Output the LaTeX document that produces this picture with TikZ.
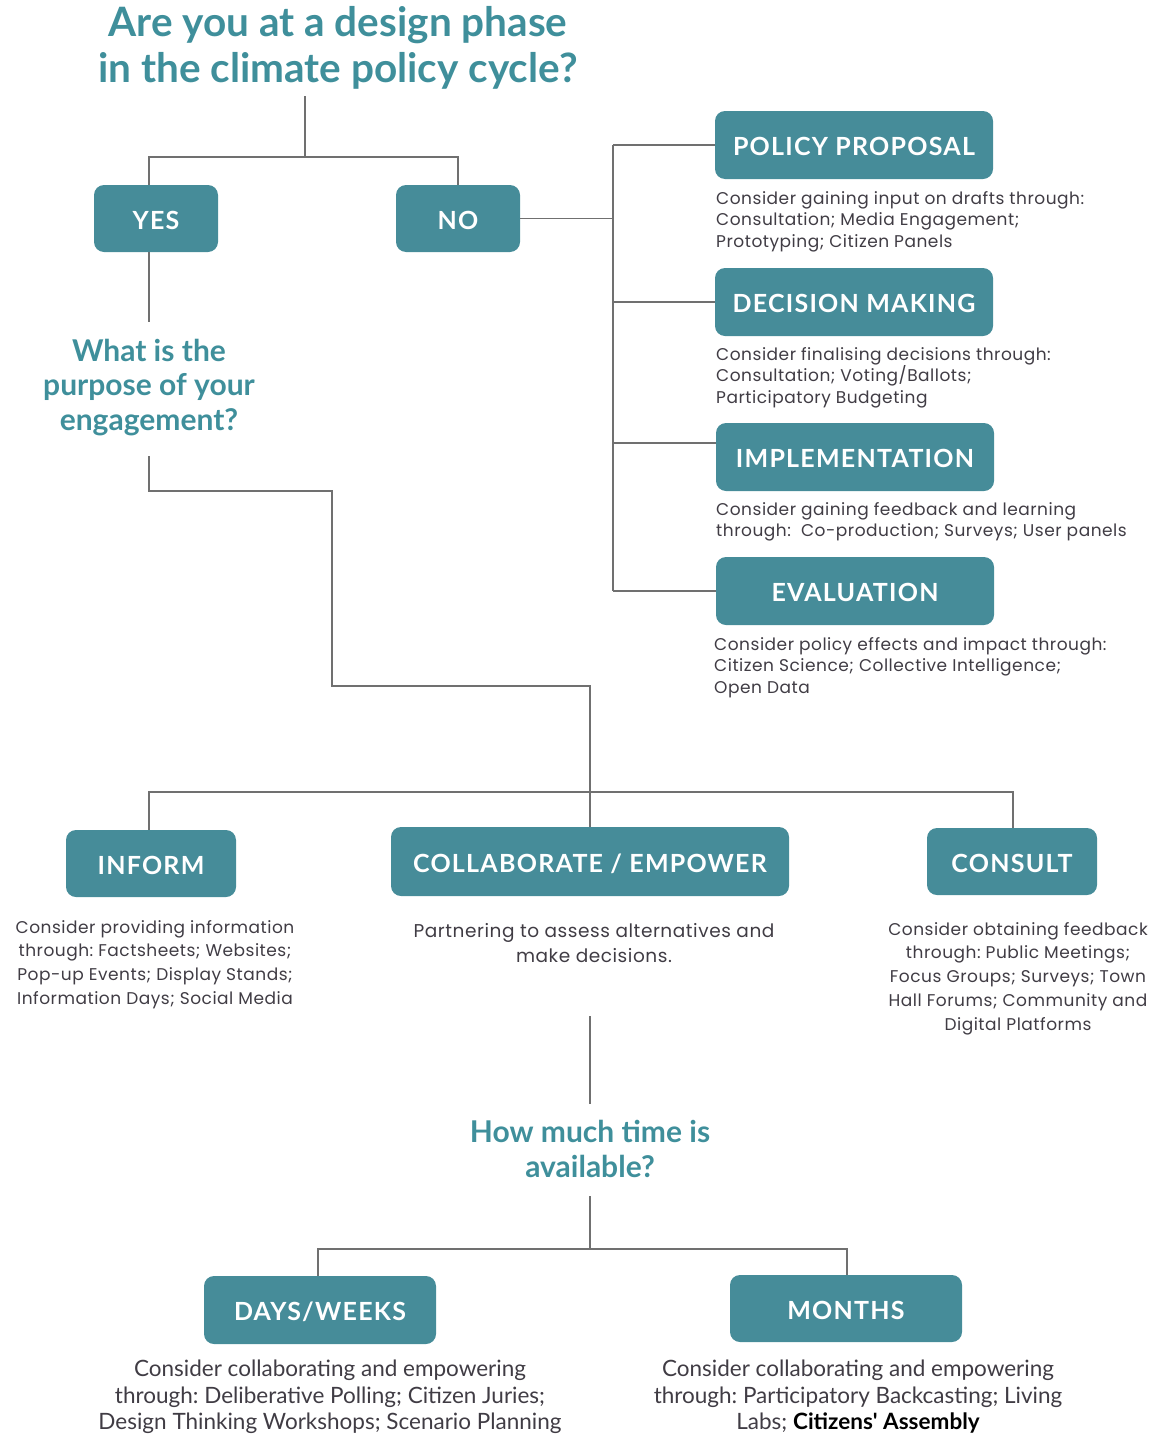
\documentclass[tikz,border=0pt]{standalone}
\usepackage{fontspec}
\setmainfont{Poppins}
\newfontfamily\bodyfont{Poppins}[LetterSpace=3]
\newfontfamily\headfont{Lato}
\newfontfamily\boxfont{Lato}[LetterSpace=5]
\newfontfamily\condfont{Lato}
\definecolor{boxteal}{HTML}{468C99}
\definecolor{headteal}{HTML}{3F8F9B}
\definecolor{linegray}{HTML}{707070}
\definecolor{bodygray}{HTML}{403C44}
\tikzset{
  box/.style={fill=boxteal, rounded corners=10pt, text=white, inner sep=0pt,
    text height=21.5pt, text depth=0pt,
    font=\boxfont\bfseries\fontsize{25}{28}\selectfont},
  conn/.style={draw=linegray, line width=1.3pt},
  body/.style={text=bodygray, inner sep=0pt, font=\bodyfont\frenchspacing\fontsize{17}{21.5}\selectfont},
  midbody/.style={text=bodygray, inner sep=0pt, align=center, font=\bodyfont\frenchspacing\fontsize{17}{23.7}\selectfont},
  condbody/.style={text=bodygray, inner sep=0pt, align=center, font=\condfont\frenchspacing\fontsize{22.5}{26.5}\selectfont},
  quest/.style={text=headteal, inner sep=0pt, align=center, font=\headfont\bfseries\fontsize{30}{34.5}\selectfont},
}
\begin{document}
\begin{tikzpicture}[x=1pt,y=-1pt]
\useasboundingbox (0,0) rectangle (1157,1440);
% title
\node[quest, anchor=north, font=\headfont\bfseries\fontsize{40.5}{46}\selectfont] (title) at (338,6)
  {Are you at a design phase\\in the climate policy cycle?};
% boxes
\node[box, minimum width=124pt, minimum height=67pt] (yes) at (156,218.5) {YES};
\node[box, minimum width=124pt, minimum height=67pt] (no) at (458,218.5) {NO};
\node[box, minimum width=278pt, minimum height=68pt] (pp) at (854,145) {POLICY PROPOSAL};
\node[box, minimum width=278pt, minimum height=68pt] (dm) at (854,302) {DECISION MAKING};
\node[box, minimum width=278pt, minimum height=68pt] (impl) at (855,457) {IMPLEMENTATION};
\node[box, minimum width=278pt, minimum height=68pt] (eval) at (855,591) {EVALUATION};
\node[box, minimum width=170pt, minimum height=67pt] (inform) at (151,863.5) {INFORM};
\node[box, minimum width=398pt, minimum height=69pt] (collab) at (590,861.5) {COLLABORATE / EMPOWER};
\node[box, minimum width=170pt, minimum height=67pt] (consult) at (1012,861.5) {CONSULT};
\node[box, minimum width=232pt, minimum height=68pt] (days) at (320,1310) {DAYS/WEEKS};
\node[box, minimum width=232pt, minimum height=67pt] (months) at (846,1308.5) {MONTHS};
% questions
\node[quest, anchor=north] (q1) at (149,339) {What is the\\purpose of your\\engagement?};
\node[quest, anchor=north] (q2) at (590,1120) {How much time is\\available?};
% body texts
\node[body, anchor=north west, align=left] (pptxt) at (716,191)
  {Consider gaining input on drafts through:\\Consultation; Media Engagement;\\Prototyping; Citizen Panels};
\node[body, anchor=north west, align=left] (dmtxt) at (716,347)
  {Consider finalising decisions through:\\Consultation; Voting/Ballots;\\Participatory Budgeting};
\node[body, anchor=north west, align=left] (impltxt) at (716,502)
  {Consider gaining feedback and learning\\through:\ \ Co-production;\ Surveys;\ User panels};
\node[body, anchor=north west, align=left] (evaltxt) at (714,637)
  {Consider policy effects and impact through:\\Citizen Science; Collective Intelligence;\\Open Data};
\node[midbody, anchor=north] (informtxt) at (155,920)
  {Consider providing information\\through: Factsheets; Websites;\\Pop-up Events; Display Stands;\\Information Days; Social Media};
\node[midbody, anchor=north, font=\bodyfont\frenchspacing\fontsize{18.5}{25}\selectfont] (collabtxt) at (594,923)
  {Partnering to assess alternatives and\\make decisions.};
\node[midbody, anchor=north] (consulttxt) at (1018,922)
  {Consider obtaining feedback\\through: Public Meetings;\\Focus Groups; Surveys; Town\\Hall Forums; Community and\\Digital Platforms};
\node[condbody, anchor=north] (daystxt) at (330,1360)
  {Consider collaborating and empowering\\through: Deliberative Polling; Citizen Juries;\\Design Thinking Workshops; Scenario Planning};
\node[condbody, anchor=north] (monthstxt) at (858,1360)
  {Consider collaborating and empowering\\through: Participatory Backcasting; Living\\Labs; {\bfseries\color{black}Citizens' Assembly}};
% connector points
\coordinate (t0) at (305,96);
\coordinate (j1) at (305,157);
\coordinate (yq) at (149,322);
\coordinate (q1b) at (149,456);
\coordinate (k1) at (332,491);
\coordinate (k2) at (590,686);
\coordinate (j2) at (590,792);
\coordinate (v1) at (613,145);
\coordinate (v2) at (613,302);
\coordinate (v3) at (613,443);
\coordinate (v4) at (613,591);
\coordinate (c1) at (590,1016);
\coordinate (c2) at (590,1104);
\coordinate (q2b) at (590,1196);
\coordinate (j3) at (590,1249);
% connectors
\draw[conn] (t0) -- (j1);
\draw[conn] ([xshift=-7pt]yes.north) |- (j1) -| (no.north);
\draw[conn] ([xshift=-7pt]yes.south) -- (yq);
\draw[conn] (q1b) |- (k1) |- (k2) -- (j2);
\draw[conn] ([xshift=-2pt]inform.north) |- (j2) -| ([xshift=1pt]consult.north);
\draw[conn] (j2) -- (collab.north);
\draw[conn] (no.east) -- (no.east -| v1);
\draw[conn] (v1) -- (v4);
\draw[conn] (v1) -- (pp.west);
\draw[conn] (v2) -- (dm.west);
\draw[conn] (v3) -- (impl.west |- v3);
\draw[conn] (v4) -- (eval.west);
\draw[conn] (c1) -- (c2);
\draw[conn] (q2b) -- (j3);
\draw[conn] ([xshift=-2pt]days.north) |- (j3) -| ([xshift=1pt]months.north);
\end{tikzpicture}
\end{document}
